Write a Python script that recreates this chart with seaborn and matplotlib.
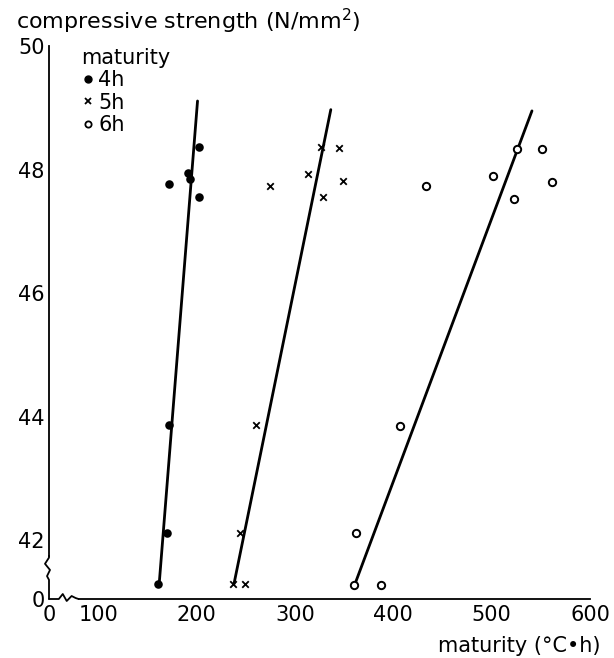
import matplotlib
matplotlib.use("Agg")
import matplotlib.pyplot as plt
import seaborn as sns
import pandas as pd
from matplotlib.lines import Line2D

# measured points: maturity (degC*h) vs compressive strength (N/mm2)
m4_x = [161, 170, 172, 172, 191, 193, 203, 203]
m4_y = [41.29, 42.12, 43.86, 47.77, 47.94, 47.84, 48.37, 47.55]
m5_x = [237, 249, 244, 260, 275, 313, 327, 329, 345, 349]
m5_y = [41.29, 41.29, 42.12, 43.86, 47.73, 47.93, 48.37, 47.55, 48.35, 47.82]
m6_x = [360, 388, 362, 407, 433, 501, 523, 526, 551, 561]
m6_y = [41.28, 41.28, 42.12, 43.85, 47.73, 47.90, 47.53, 48.34, 48.33, 47.80]

# fitted lines (end points)
fit4_x = [162, 201]
fit4_y = [41.29, 49.11]
fit5_x = [238, 336.5]
fit5_y = [41.29, 48.97]
fit6_x = [361, 541]
fit6_y = [41.29, 48.95]

x_ticks = [50, 100, 150, 200, 250, 300, 350, 400, 450, 500, 550, 600]
x_labels = ["0", "100", "", "200", "", "300", "", "400", "", "500", "", "600"]
y_ticks = [41.05, 42, 44, 46, 48, 50]
y_labels = ["0", "42", "44", "46", "48", "50"]

sns.set_style("white")
plt.rcParams['font.family'] = ['DejaVu Sans']
plt.rcParams['text.color'] = 'black'
plt.rcParams['axes.labelcolor'] = 'black'
FS = 15

fig = plt.figure(figsize=(6.14, 6.58), dpi=100)
ax = fig.add_axes([49 / 614, 59 / 658, 541 / 614, 553 / 658])

for fx, fy in [(fit4_x, fit4_y), (fit5_x, fit5_y), (fit6_x, fit6_y)]:
    sns.lineplot(x=fx, y=fy, sort=False, color='black', linewidth=2.0, ax=ax)

sns.scatterplot(x=m4_x, y=m4_y, marker='o', color='black', s=38, linewidth=0, ax=ax, zorder=3)
sns.scatterplot(x=m5_x, y=m5_y, marker='x', color='black', s=22, linewidth=1.3, ax=ax, zorder=3)
sns.scatterplot(x=m6_x, y=m6_y, marker='o', facecolor='white', edgecolor='black', s=28,
                linewidth=1.4, ax=ax, zorder=3)

ax.set_xlim(50, 600)
ax.set_ylim(41.05, 50)
ax.set_xticks(x_ticks)
ax.set_xticklabels(x_labels)
ax.set_yticks(y_ticks)
ax.set_yticklabels(y_labels)
ax.tick_params(direction='in', length=5, width=1.2, labelsize=FS, colors='black', pad=4)
ax.tick_params(axis='y', pad=3)
ax.set_xlabel('')
ax.set_ylabel('')

for s in ['top', 'right']:
    ax.spines[s].set_visible(False)
for s in ['left', 'bottom']:
    ax.spines[s].set_color('black')
    ax.spines[s].set_linewidth(1.3)

# axis breaks
ax.spines['left'].set_bounds(41.75, 50)
ax.spines['bottom'].set_bounds(80, 600)
px_x = 1 / 541
ax.plot([0, 0, -4 * px_x, 1 * px_x, -2 * px_x, 0, 0],
        [41.75, 41.72, 41.62, 41.52, 41.42, 41.36, 41.05],
        transform=ax.get_yaxis_transform(), color='black', linewidth=1.3, clip_on=False)
px_y = 1 / 553
ax.plot([50, 60, 64, 68, 73, 77, 80],
        [0, 0, 5 * px_y, -2 * px_y, 3 * px_y, 1 * px_y, 0],
        transform=ax.get_xaxis_transform(), color='black', linewidth=1.3, clip_on=False)

handles = [
    Line2D([], [], marker='o', ls='', color='black', markersize=5),
    Line2D([], [], marker='x', ls='', color='black', markersize=4, markeredgewidth=1.3),
    Line2D([], [], marker='o', ls='', markerfacecolor='white', markeredgecolor='black',
           markersize=4.5, markeredgewidth=1.3),
]
leg = ax.legend(handles, ['4h', '5h', '6h'], title='maturity', loc='upper left',
                bbox_to_anchor=(0.06, 0.997), frameon=False, alignment='left',
                fontsize=FS, title_fontsize=FS, handlelength=0.6, handletextpad=0.2,
                labelspacing=0.12, borderpad=0, borderaxespad=0)
leg.get_title().set_color('black')

fig.text(16 / 614, 1 - 21 / 658, 'compressive strength (N/mm$^2$)', ha='left', va='center',
         fontsize=16)
fig.text(600 / 614, 1 - 646 / 658, 'maturity (°C•h)', ha='right', va='center', fontsize=FS)

fig.savefig('out.png', dpi=100, facecolor='white')
